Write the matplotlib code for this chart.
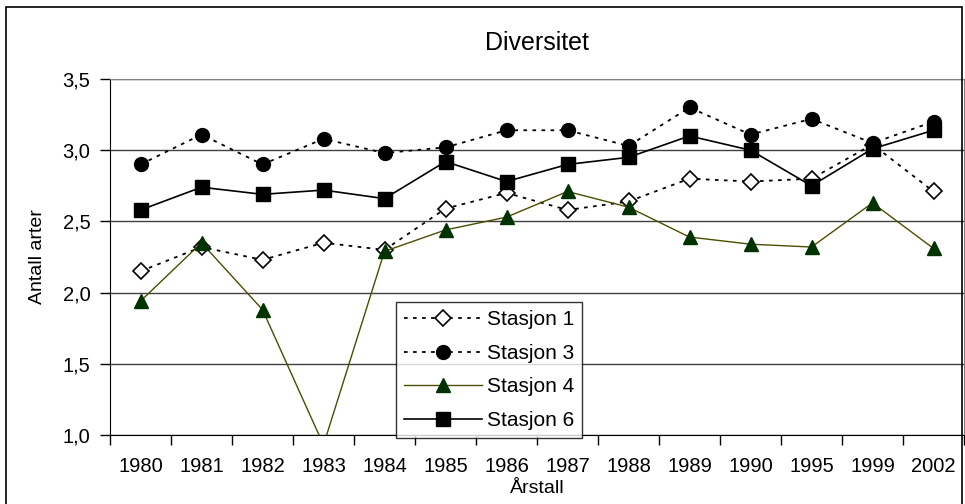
import matplotlib.pyplot as plt
from matplotlib.patches import Rectangle
from matplotlib.ticker import FuncFormatter, FixedLocator

years = ["1980", "1981", "1982", "1983", "1984", "1985", "1986",
         "1987", "1988", "1989", "1990", "1995", "1999", "2002"]
stasjon1 = [2.15, 2.32, 2.23, 2.35, 2.30, 2.59, 2.70, 2.58, 2.64, 2.80, 2.78, 2.80, 3.04, 2.71]
stasjon3 = [2.90, 3.11, 2.90, 3.08, 2.98, 3.02, 3.14, 3.14, 3.03, 3.30, 3.11, 3.22, 3.05, 3.20]
stasjon4 = [1.94, 2.35, 1.88, 0.93, 2.29, 2.44, 2.53, 2.71, 2.60, 2.39, 2.34, 2.32, 2.63, 2.31]
stasjon6 = [2.58, 2.74, 2.69, 2.72, 2.66, 2.92, 2.78, 2.90, 2.95, 3.10, 3.00, 2.75, 3.01, 3.14]

plt.rcParams['font.family'] = ['Liberation Sans', 'DejaVu Sans']

fig = plt.figure(figsize=(9.65, 5.04), dpi=100)
ax = fig.add_axes([110/965, 1 - 435/504, 854/965, 356/504])

# outer chart border
fig.patches.append(Rectangle((6/965, -0.01), 956/965, 1 - 7/504 + 0.01,
                             transform=fig.transFigure, fill=False,
                             edgecolor="black", linewidth=1.2))

x = list(range(len(years)))
ax.plot(x, stasjon1, linestyle=(0, (2, 3)), color="black", lw=1.3,
        marker="D", ms=8, mfc="white", mec="black", mew=1.2, label="Stasjon 1")
ax.plot(x, stasjon3, linestyle=(0, (2, 3)), color="black", lw=1.3,
        marker="o", ms=10, mfc="black", mec="black", label="Stasjon 3")
ax.plot(x, stasjon4, linestyle="-", color="#4d4d00", lw=1.0,
        marker="^", ms=10, mfc="#003300", mec="#003300", label="Stasjon 4")
ax.plot(x, stasjon6, linestyle="-", color="black", lw=1.2,
        marker="s", ms=10, mfc="black", mec="black", label="Stasjon 6")

ax.set_xlim(-0.5, len(years) - 0.5)
ax.set_ylim(1.0, 3.5)
ax.set_yticks([1.0, 1.5, 2.0, 2.5, 3.0, 3.5])
ax.yaxis.set_major_formatter(FuncFormatter(lambda v, p: f"{v:.1f}".replace(".", ",")))
ax.yaxis.grid(True, color="#404040", lw=1.0)
ax.set_axisbelow(True)

ax.set_xticks(x)
ax.set_xticklabels(years)
ax.tick_params(axis="x", which="major", length=0, labelsize=14.5, pad=16)
ax.xaxis.set_minor_locator(FixedLocator([i - 0.5 for i in range(len(years) + 1)]))
ax.tick_params(axis="x", which="minor", length=7, width=1, direction="out")
ax.tick_params(axis="y", length=7, width=1, direction="out", labelsize=14.5, pad=7)

for s in ["top", "right"]:
    ax.spines[s].set_color("#808080")
for s in ["left", "bottom"]:
    ax.spines[s].set_color("black")

ax.set_xlabel("Årstall", fontsize=14, labelpad=3)
ax.set_ylabel("Antall arter", fontsize=14, labelpad=12)
fig.text(537/965, 1 - 43/504, "Diversitet", ha="center", va="center", fontsize=18)

leg = ax.legend(loc="upper left", bbox_to_anchor=(396/965, 1 - 302/504),
                bbox_transform=fig.transFigure, frameon=True, fancybox=False,
                edgecolor="black", fontsize=15, handlelength=3.75,
                borderpad=0.4, labelspacing=0.7, handletextpad=0.2, borderaxespad=0)
leg.get_frame().set_linewidth(1.0)

fig.savefig("out.png", dpi=100)
